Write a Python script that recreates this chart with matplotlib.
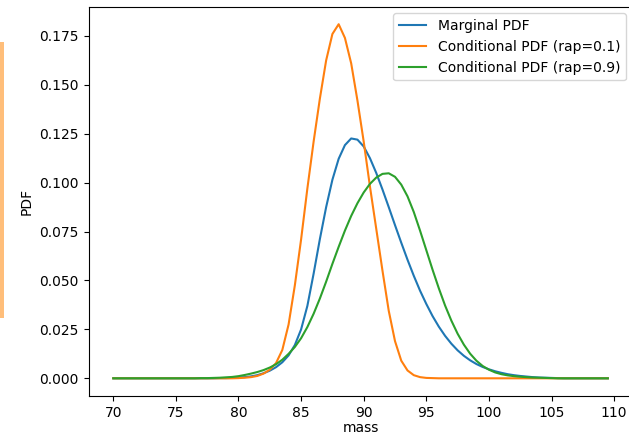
import numpy as np
import matplotlib
matplotlib.use("Agg")
import matplotlib.pyplot as plt
import matplotlib.patches as patches

# mass grid, step 0.5 from 70 to 109.5
mass = np.arange(70.0, 110.0, 0.5)

marginal_pdf = [
    0, 0, 0, 0, 0, 0, 0, 0, 0, 0,
    0, 0, 0, 0, 0, 0, 0, 0.0001, 0.0001, 0.0002,
    0.0004, 0.0006, 0.0010, 0.0016, 0.0026, 0.0039, 0.0057, 0.0082, 0.0117, 0.0170,
    0.0250, 0.0370, 0.0535, 0.0712, 0.0875, 0.1015, 0.1122, 0.1192, 0.1226, 0.1220,
    0.1185, 0.1125, 0.1050, 0.0965, 0.0875, 0.0783, 0.0693, 0.0606, 0.0524, 0.0448,
    0.0380, 0.0318, 0.0264, 0.0217, 0.0177, 0.0143, 0.0115, 0.0092, 0.0073, 0.0058,
    0.0046, 0.0036, 0.0028, 0.0021, 0.0016, 0.0012, 0.0009, 0.0006, 0.0004, 0.0003,
    0.0002, 0.0001, 0, 0, 0, 0, 0, 0, 0, 0,
]

cond_pdf_rap01 = [
    0, 0, 0, 0, 0, 0, 0, 0, 0, 0,
    0, 0, 0, 0, 0, 0, 0, 0, 0, 0,
    0.0001, 0.0003, 0.0006, 0.0012, 0.0024, 0.0044, 0.0078, 0.0145, 0.0275, 0.0475,
    0.0710, 0.0970, 0.1210, 0.1430, 0.1625, 0.1760, 0.1810, 0.1740, 0.1610, 0.1420,
    0.1210, 0.0980, 0.0765, 0.0550, 0.0345, 0.0190, 0.0090, 0.0040, 0.0016, 0.0006,
    0.0002, 0.0001, 0, 0, 0, 0, 0, 0, 0, 0,
    0, 0, 0, 0, 0, 0, 0, 0, 0, 0,
    0, 0, 0, 0, 0, 0, 0, 0, 0, 0,
]

cond_pdf_rap09 = [
    0, 0, 0, 0, 0, 0, 0, 0, 0, 0,
    0, 0, 0, 0, 0.0001, 0.0001, 0.0002, 0.0003, 0.0005, 0.0007,
    0.0011, 0.0017, 0.0024, 0.0032, 0.0042, 0.0055, 0.0072, 0.0095, 0.0125, 0.0160,
    0.0205, 0.0262, 0.0330, 0.0408, 0.0494, 0.0585, 0.0672, 0.0755, 0.0830, 0.0895,
    0.0950, 0.0994, 0.1026, 0.1045, 0.1048, 0.1030, 0.0990, 0.0930, 0.0850, 0.0755,
    0.0655, 0.0555, 0.0460, 0.0372, 0.0295, 0.0228, 0.0172, 0.0126, 0.0090, 0.0063,
    0.0044, 0.0030, 0.0021, 0.0015, 0.0011, 0.0008, 0.0006, 0.0004, 0.0003, 0.0002,
    0.0001, 0, 0, 0, 0, 0, 0, 0, 0, 0,
]

fig = plt.figure(figsize=(6.29, 4.37), dpi=100)
# the screenshot is cropped just at the right edge of the axes
ax = fig.add_axes([0.1408, 0.0938, 0.8649, 0.8913])

ax.plot(mass, marginal_pdf, label="Marginal PDF")
ax.plot(mass, cond_pdf_rap01, label="Conditional PDF (rap=0.1)")
ax.plot(mass, cond_pdf_rap09, label="Conditional PDF (rap=0.9)")

ax.set_xlabel("mass", labelpad=1)
ax.set_ylabel("PDF")
ax.legend(loc="upper right")
ax.spines["right"].set_visible(False)

# light orange strip on the left edge of the screenshot
fig.patches.append(patches.Rectangle((0, 0.273), 0.0065, 0.63, transform=fig.transFigure,
                                     facecolor="#ffbe7a", edgecolor="none"))

fig.savefig("out.png", dpi=100)
